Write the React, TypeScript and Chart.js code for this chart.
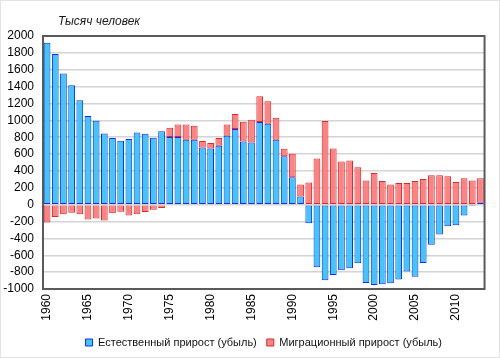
import React, { useEffect, useRef } from 'react';
import { Chart, registerables } from 'chart.js';

Chart.register(...registerables);

const years: string[] = [
  '1960', '1961', '1962', '1963', '1964', '1965', '1966', '1967', '1968', '1969',
  '1970', '1971', '1972', '1973', '1974', '1975', '1976', '1977', '1978', '1979',
  '1980', '1981', '1982', '1983', '1984', '1985', '1986', '1987', '1988', '1989',
  '1990', '1991', '1992', '1993', '1994', '1995', '1996', '1997', '1998', '1999',
  '2000', '2001', '2002', '2003', '2004', '2005', '2006', '2007', '2008', '2009',
  '2010', '2011', '2012', '2013',
];

const naturalGrowth: number[] = [
  1920, 1786, 1556, 1417, 1238, 1051, 996, 845, 790, 758,
  778, 857, 841, 794, 870, 802, 802, 770, 770, 679,
  667, 698, 817, 897, 750, 738, 980, 960, 770, 575,
  325, 98, -219, -742, -896, -833, -778, -754, -694, -929,
  -952, -943, -931, -887, -792, -855, -693, -474, -355, -256,
  -244, -129, -4, 24,
];

const migrationGrowth: number[] = [
  -210, -147, -115, -95, -115, -175, -163, -187, -103, -83,
  -127, -115, -87, -60, -40, 111, 150, 182, 167, 75,
  63, 92, 135, 178, 234, 270, 306, 266, 260, 88,
  279, 140, 262, 548, 992, 667, 512, 524, 444, 286,
  375, 280, 240, 256, 256, 280, 304, 350, 350, 338,
  268, 312, 288, 288,
];

const labelNatural = 'Естественный прирост (убыль)';
const labelMigration = 'Миграционный прирост (убыль)';
const yAxisTitle = 'Тысяч человек';

const FONT = '"Liberation Sans", Arial, sans-serif';

export default function App() {
  const ref = useRef<HTMLCanvasElement | null>(null);

  useEffect(() => {
    document.body.style.margin = '0';
    const canvas = ref.current;
    if (!canvas) return;

    const framePlugin = {
      id: 'frameAndTitle',
      afterLayout(chart: any) {
        const lg = chart.legend;
        if (lg) {
          lg.left = chart.chartArea.left;
          lg.right = chart.chartArea.right;
        }
      },
      beforeDraw(chart: any) {
        const { ctx, width, height } = chart;
        ctx.save();
        ctx.fillStyle = '#ffffff';
        ctx.fillRect(0, 0, width, height);
        ctx.strokeStyle = '#e4e4e4';
        ctx.lineWidth = 1;
        ctx.strokeRect(0.5, 0.5, width - 1, height - 1);
        ctx.restore();
      },
      afterDraw(chart: any) {
        const { ctx, chartArea } = chart;
        ctx.save();
        ctx.strokeStyle = '#5a5a5a';
        ctx.lineWidth = 2;
        ctx.strokeRect(chartArea.left, chartArea.top, chartArea.right - chartArea.left, chartArea.bottom - chartArea.top);
        ctx.fillStyle = '#1a1a1a';
        ctx.font = `italic 12px ${FONT}`;
        ctx.textAlign = 'left';
        ctx.textBaseline = 'middle';
        ctx.fillText(yAxisTitle, chartArea.left + 15, chartArea.top - 14);
        ctx.restore();
      },
    };

    const chart = new Chart(canvas, {
      type: 'bar',
      data: {
        labels: years,
        datasets: [
          {
            label: labelNatural,
            data: naturalGrowth,
            backgroundColor: '#3cc8f8',
            borderColor: '#1428ff',
            borderWidth: 1,
            borderSkipped: false,
            barPercentage: 0.82,
            categoryPercentage: 1,
            stack: 's',
          },
          {
            label: labelMigration,
            data: migrationGrowth,
            backgroundColor: '#ff8282',
            borderColor: '#e02828',
            borderWidth: 1,
            borderSkipped: false,
            barPercentage: 0.82,
            categoryPercentage: 1,
            stack: 's',
          },
        ],
      },
      options: {
        responsive: false,
        animation: false,
        layout: { padding: { left: 0, right: 15, top: 36, bottom: 0 } },
        plugins: {
          legend: {
            position: 'bottom',
            labels: {
              boxWidth: 7,
              boxHeight: 7,
              padding: 10,
              color: '#111',
              font: { family: FONT, size: 11 },
            },
          },
          tooltip: { enabled: false },
          title: { display: false },
        },
        scales: {
          x: {
            stacked: true,
            grid: { display: false, drawTicks: false },
            border: { display: false },
            ticks: {
              autoSkip: false,
              minRotation: 90,
              maxRotation: 90,
              padding: 5,
              color: '#000',
              font: { family: FONT, size: 12 },
              callback: function (this: any, value: any) {
                const lbl = this.getLabelForValue(value);
                return Number(lbl) % 5 === 0 ? lbl : '';
              },
            },
            afterFit(scale: any) {
              scale.height = 38;
            },
          },
          y: {
            stacked: true,
            min: -1000,
            max: 2000,
            grid: { color: '#d4d4d4', lineWidth: 1.5, drawTicks: false },
            border: { display: false },
            ticks: {
              stepSize: 200,
              autoSkip: false,
              padding: 9,
              color: '#000',
              font: { family: FONT, size: 12 },
              callback: (value: any) => String(value),
            },
            afterFit(scale: any) {
              scale.width = 43;
            },
          },
        },
      },
      plugins: [framePlugin],
    } as any);

    return () => chart.destroy();
  }, []);

  return (
    <div style={{ position: 'absolute', left: 0, top: 0, width: 500, height: 358 }}>
      <canvas ref={ref} width={500} height={358} style={{ width: 500, height: 358 }} />
    </div>
  );
}
